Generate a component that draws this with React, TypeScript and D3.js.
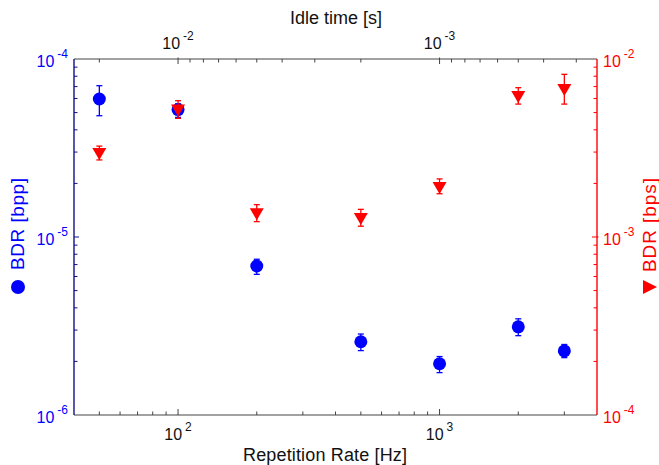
import React from "react";
import * as d3 from "d3";

const rates = [50, 100, 200, 500, 1000, 2000, 3000];
const bpp = [5.96e-5, 5.2e-5, 6.87e-6, 2.58e-6, 1.94e-6, 3.13e-6, 2.29e-6];
const bppHi = [7.08e-5, 5.6e-5, 7.5e-6, 2.85e-6, 2.13e-6, 3.47e-6, 2.49e-6];
const bppLo = [4.8e-5, 4.7e-5, 6.17e-6, 2.3e-6, 1.73e-6, 2.79e-6, 2.1e-6];
const bps = [2.96e-3, 5.2e-3, 1.36e-3, 1.28e-3, 1.91e-3, 6.2e-3, 6.78e-3];
const bpsHi = [3.24e-3, 5.83e-3, 1.52e-3, 1.43e-3, 2.12e-3, 6.9e-3, 8.2e-3];
const bpsLo = [2.71e-3, 4.64e-3, 1.22e-3, 1.15e-3, 1.75e-3, 5.58e-3, 5.58e-3];

const xDomain = [40, 4000];
const yLeftDomain = [1e-6, 1e-4];
const yRightDomain = [1e-4, 1e-2];
const bottomMajor = [100, 1000];
const topMajor = [0.01, 0.001];
const leftMajor = [1e-6, 1e-5, 1e-4];
const rightMajor = [1e-4, 1e-3, 1e-2];

const W = 659, H = 465;
const L = 74, R = 597, T = 59, B = 415;
const FONT = "'Liberation Sans', Arial, Helvetica, sans-serif";
const BLUE = "#0000ff";
const RED = "#ff0000";
const AXC = "#444444";

const isPow10 = (v: number) => Math.abs(Math.log10(v) - Math.round(Math.log10(v))) < 1e-9;
const expOf = (v: number) => Math.round(Math.log10(v));

export default function App() {
  const x = d3.scaleLog().domain(xDomain).range([L, R]);
  const xTop = d3.scaleLog().domain([1 / xDomain[0], 1 / xDomain[1]]).range([L, R]);
  const yL = d3.scaleLog().domain(yLeftDomain).range([B, T]);
  const yR = d3.scaleLog().domain(yRightDomain).range([B, T]);

  const inside = (px: number, a: number, b: number) => px > a + 0.5 && px < b - 0.5;

  const bottomTicks = x.ticks().filter((v) => inside(x(v), L, R));
  const topTicks = xTop.ticks().filter((v) => inside(xTop(v), L, R));
  const leftTicks = yL.ticks().filter((v) => inside(yL(v), T, B));
  const rightTicks = yR.ticks().filter((v) => inside(yR(v), T, B));

  const label = (e: number, key: string, props: any) => (
    <text key={key} fontFamily={FONT} fontSize={16} {...props}>
      10
      <tspan fontSize={12} dx={3} dy={-9}>{String(e)}</tspan>
    </text>
  );

  const cap = 3;
  return (
    <svg width={W} height={H} style={{ position: "absolute", left: 0, top: 0, background: "#fff" }}>
      <rect x={0} y={0} width={W} height={H} fill="#fff" />
      <line x1={L} x2={R} y1={T} y2={T} stroke={AXC} strokeWidth={1.2} />
      <line x1={L} x2={R} y1={B} y2={B} stroke={AXC} strokeWidth={1.2} />
      <line x1={L} x2={L} y1={T} y2={B} stroke="#10108a" strokeWidth={1.4} />
      <line x1={R} x2={R} y1={T} y2={B} stroke={RED} strokeWidth={1.4} />

      {bottomTicks.map((v, i) => {
        const maj = isPow10(v);
        return <line key={"bt" + i} x1={x(v)} x2={x(v)} y1={B} y2={B - (maj ? 6 : 3.5)} stroke={AXC} strokeWidth={1} />;
      })}
      {topTicks.map((v, i) => {
        const maj = isPow10(v);
        return <line key={"tt" + i} x1={xTop(v)} x2={xTop(v)} y1={T - (maj ? 1.5 : 0)} y2={T + (maj ? 5 : 3.5)} stroke={AXC} strokeWidth={1} />;
      })}
      {leftTicks.map((v, i) => {
        const maj = isPow10(v);
        return <line key={"lt" + i} x1={L} x2={L + (maj ? 5 : 3.5)} y1={yL(v)} y2={yL(v)} stroke="#10108a" strokeWidth={1} />;
      })}
      {rightTicks.map((v, i) => {
        const maj = isPow10(v);
        return <line key={"rt" + i} x1={R + (maj ? 1.5 : 0)} x2={R - (maj ? 5 : 3.5)} y1={yR(v)} y2={yR(v)} stroke={RED} strokeWidth={1} />;
      })}

      {bottomMajor.map((v) => label(expOf(v), "bl" + v, { x: x(v), y: B + 25, textAnchor: "middle", fill: "#111" }))}
      {topMajor.map((v) => label(expOf(v), "tl" + v, { x: xTop(v), y: T - 10, textAnchor: "middle", fill: "#111" }))}
      {leftMajor.map((v) => label(expOf(v), "ll" + v, { x: L - 6, y: yL(v) + 8, textAnchor: "end", fill: BLUE }))}
      {rightMajor.map((v) => label(expOf(v), "rl" + v, { x: R + 6, y: yR(v) + 8, textAnchor: "start", fill: RED }))}

      <text x={(L + R) / 2 + 0.5} y={24} textAnchor="middle" fontFamily={FONT} fontSize={18} fill="#111" textLength={92} lengthAdjust="spacing">Idle time [s]</text>
      <text x={(L + R) / 2 - 10.5} y={461} textAnchor="middle" fontFamily={FONT} fontSize={18} fill="#111" textLength={164} lengthAdjust="spacing">Repetition Rate [Hz]</text>

      <circle cx={18} cy={287} r={7} fill={BLUE} />
      <text transform="translate(24,270) rotate(-90)" fontFamily={FONT} fontSize={19} fill={BLUE} textLength={92} lengthAdjust="spacing">BDR [bpp]</text>

      <path d="M643,280 L657,287 L643,294 Z" fill={RED} />
      <text transform="translate(656,272) rotate(-90)" fontFamily={FONT} fontSize={19} fill={RED} textLength={94} lengthAdjust="spacing">BDR [bps]</text>

      {rates.map((r, i) => (
        <g key={"b" + i}>
          <line x1={x(r)} x2={x(r)} y1={yL(bppHi[i])} y2={yL(bppLo[i])} stroke={BLUE} strokeWidth={1.3} />
          <line x1={x(r) - cap} x2={x(r) + cap} y1={yL(bppHi[i])} y2={yL(bppHi[i])} stroke={BLUE} strokeWidth={1.3} />
          <line x1={x(r) - cap} x2={x(r) + cap} y1={yL(bppLo[i])} y2={yL(bppLo[i])} stroke={BLUE} strokeWidth={1.3} />
          <circle cx={x(r)} cy={yL(bpp[i])} r={6.5} fill={BLUE} />
        </g>
      ))}
      {rates.map((r, i) => {
        const cx = x(r), cy = yR(bps[i]);
        return (
          <g key={"r" + i}>
            <line x1={cx} x2={cx} y1={yR(bpsHi[i])} y2={yR(bpsLo[i])} stroke={RED} strokeWidth={1.3} />
            <line x1={cx - cap} x2={cx + cap} y1={yR(bpsHi[i])} y2={yR(bpsHi[i])} stroke={RED} strokeWidth={1.3} />
            <line x1={cx - cap} x2={cx + cap} y1={yR(bpsLo[i])} y2={yR(bpsLo[i])} stroke={RED} strokeWidth={1.3} />
            <path d={`M${cx - 7},${cy - 5} L${cx + 7},${cy - 5} L${cx},${cy + 7} Z`} fill={RED} />
          </g>
        );
      })}
    </svg>
  );
}
